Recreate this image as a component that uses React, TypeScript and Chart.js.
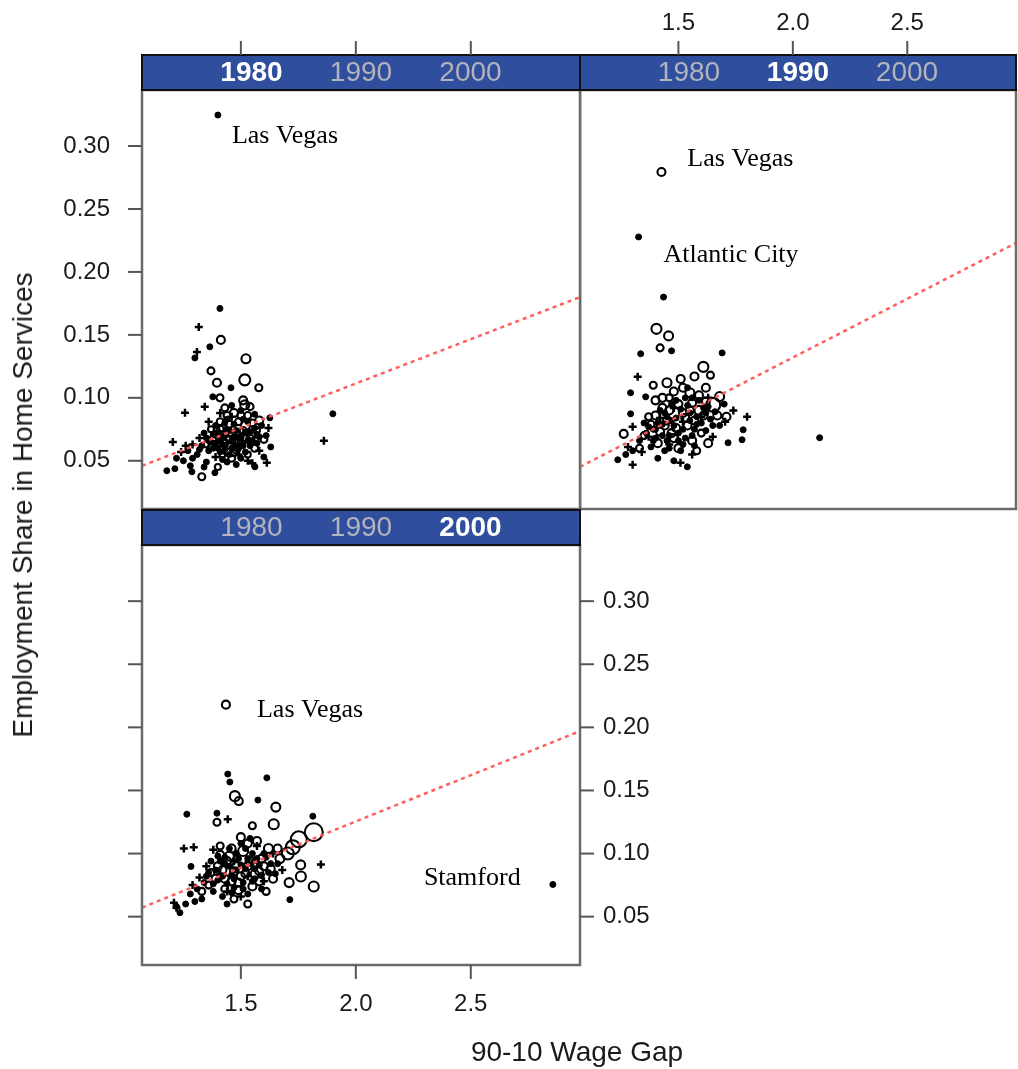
import React, { useEffect, useRef } from "react";
import { Chart, registerables } from "chart.js";

Chart.register(...registerables);

type Pt = [number, number];
type Circ = [number, number, number];
type Note = [string, number, number];

// ---------- axis / panel values ----------
const yearLabels = ["1980", "1990", "2000"];
const xTicks = [1.5, 2.0, 2.5];
const yTicks = [0.05, 0.1, 0.15, 0.2, 0.25, 0.3];
const xLimits = [1.07, 2.975];
const yLimits = [0.0117, 0.3445];
const xTitle = "90-10 Wage Gap";
const yTitle = "Employment Share in Home Services";

// ---------- 1980 ----------
const dots1980: Pt[] = [
  [1.4, 0.3246], [1.409, 0.171], [1.365, 0.1405], [1.3, 0.1317], [1.457, 0.108], [1.378, 0.1008],
  [1.626, 0.0841], [1.9, 0.0873], [1.178, 0.0421], [1.213, 0.0437], [1.561, 0.0452], [1.387, 0.0405],
  [1.287, 0.0413], [1.33, 0.062], [1.36, 0.058], [1.38, 0.071], [1.41, 0.066], [1.43, 0.059],
  [1.45, 0.074], [1.47, 0.062], [1.49, 0.069], [1.52, 0.057], [1.54, 0.073], [1.57, 0.064],
  [1.59, 0.078], [1.35, 0.049], [1.42, 0.051], [1.48, 0.047], [1.53, 0.081], [1.44, 0.083],
  [1.39, 0.078], [1.31, 0.055], [1.27, 0.058], [1.5, 0.09], [1.46, 0.094], [1.56, 0.087],
  [1.61, 0.07], [1.63, 0.061], [1.34, 0.072], [1.25, 0.05], [1.22, 0.052], [1.28, 0.046],
  [1.6, 0.053], [1.51, 0.062], [1.4, 0.06], [1.37, 0.065], [1.55, 0.066], [1.47, 0.079], [1.43, 0.07],
  [1.36, 0.066], [1.38, 0.06], [1.4, 0.072], [1.42, 0.063], [1.44, 0.075], [1.46, 0.066],
  [1.48, 0.074], [1.5, 0.068], [1.52, 0.072], [1.54, 0.062], [1.56, 0.076], [1.45, 0.055],
  [1.41, 0.057], [1.49, 0.06], [1.53, 0.066], [1.39, 0.064], [1.47, 0.069], [1.43, 0.08],
  [1.51, 0.083], [1.57, 0.071], [1.35, 0.068], [1.44, 0.049], [1.5, 0.052], [1.58, 0.069],
  [1.46, 0.06], [1.42, 0.069], [1.32, 0.059], [1.29, 0.052], [1.34, 0.045],
];
const crosses1980: Pt[] = [
  [1.317, 0.1563], [1.309, 0.1365], [1.343, 0.0929], [1.257, 0.0881], [1.861, 0.0659], [1.204, 0.065],
  [1.613, 0.0484], [1.32, 0.068], [1.46, 0.085], [1.29, 0.063], [1.53, 0.05], [1.41, 0.088],
  [1.58, 0.058], [1.36, 0.081], [1.49, 0.055], [1.62, 0.076], [1.24, 0.057], [1.44, 0.064],
  [1.51, 0.071], [1.39, 0.053], [1.26, 0.062], [1.55, 0.048],
];
// x, y, population index (circle size)
const circles1980: Circ[] = [
  [1.413, 0.146, 4], [1.522, 0.131, 4.5], [1.37, 0.1214, 3.5], [1.517, 0.1143, 5.5], [1.396, 0.112, 4],
  [1.578, 0.108, 3.5], [1.409, 0.1, 3.5], [1.517, 0.0944, 4.5], [1.33, 0.0373, 3.5], [1.42, 0.076, 3.5],
  [1.48, 0.072, 4], [1.52, 0.078, 4.5], [1.45, 0.067, 3.5], [1.5, 0.063, 4], [1.55, 0.07, 3.5],
  [1.38, 0.068, 3.5], [1.44, 0.057, 3.5], [1.47, 0.088, 4], [1.53, 0.086, 3.5], [1.41, 0.081, 3.5],
  [1.58, 0.082, 4], [1.35, 0.063, 3], [1.49, 0.081, 3.5], [1.56, 0.06, 3.5], [1.43, 0.092, 3.5],
  [1.51, 0.098, 4], [1.46, 0.052, 3.5], [1.4, 0.045, 3], [1.54, 0.093, 3.5], [1.6, 0.067, 3.5],
  [1.37, 0.075, 3], [1.48, 0.059, 4], [1.39, 0.071, 3.5], [1.43, 0.064, 3.5], [1.46, 0.071, 3.5],
  [1.49, 0.066, 3.5], [1.51, 0.074, 3.5], [1.54, 0.068, 3.5], [1.41, 0.075, 3.5], [1.45, 0.079, 3.5],
  [1.48, 0.064, 3.5], [1.52, 0.068, 3.5], [1.57, 0.074, 3], [1.37, 0.061, 3], [1.44, 0.086, 3.5],
  [1.5, 0.086, 3.5], [1.47, 0.056, 3], [1.53, 0.055, 3], [1.42, 0.055, 3], [1.55, 0.08, 3.5],
];
const fit1980: Pt[] = [[1.07, 0.046], [2.975, 0.18]];
const notes1980: Note[] = [["Las Vegas", 1.461, 0.308]];

// ---------- 1990 ----------
const dots1990: Pt[] = [
  [1.326, 0.2278], [1.435, 0.18], [1.47, 0.1373], [1.335, 0.135], [1.691, 0.1357], [1.291, 0.104],
  [1.357, 0.1008], [1.291, 0.0873], [1.783, 0.0746], [1.778, 0.0667], [1.717, 0.0643], [1.235, 0.0508],
  [1.539, 0.0452], [2.117, 0.0683], [1.36, 0.072], [1.4, 0.068], [1.43, 0.079], [1.46, 0.07],
  [1.49, 0.084], [1.52, 0.075], [1.55, 0.088], [1.58, 0.079], [1.61, 0.092], [1.64, 0.083],
  [1.38, 0.061], [1.44, 0.058], [1.5, 0.066], [1.56, 0.07], [1.62, 0.074], [1.33, 0.066],
  [1.3, 0.058], [1.27, 0.055], [1.42, 0.09], [1.47, 0.095], [1.53, 0.1], [1.59, 0.098],
  [1.66, 0.089], [1.35, 0.08], [1.45, 0.085], [1.51, 0.058], [1.57, 0.062], [1.41, 0.052],
  [1.48, 0.05], [1.68, 0.078], [1.7, 0.095], [1.54, 0.108], [1.39, 0.075],
  [1.4, 0.075], [1.43, 0.07], [1.45, 0.066], [1.48, 0.078], [1.5, 0.072], [1.53, 0.068],
  [1.55, 0.082], [1.57, 0.075], [1.6, 0.08], [1.62, 0.088], [1.44, 0.088], [1.47, 0.082],
  [1.51, 0.091], [1.54, 0.094], [1.58, 0.085], [1.41, 0.08], [1.46, 0.06], [1.52, 0.063],
  [1.37, 0.077], [1.63, 0.093], [1.49, 0.098], [1.56, 0.1], [1.39, 0.066], [1.65, 0.078],
];
const crosses1990: Pt[] = [
  [1.322, 0.1167], [1.8, 0.085], [1.704, 0.081], [1.3, 0.077], [1.3, 0.0468], [1.509, 0.0484],
  [1.37, 0.069], [1.46, 0.063], [1.52, 0.081], [1.6, 0.085], [1.42, 0.084], [1.34, 0.057],
  [1.65, 0.069], [1.48, 0.092], [1.56, 0.055], [1.28, 0.061], [1.74, 0.09], [1.63, 0.1],
];
const circles1990: Circ[] = [
  [1.426, 0.2794, 4], [1.404, 0.1548, 5], [1.457, 0.1492, 4.5], [1.42, 0.1397, 3.5], [1.609, 0.1246, 5],
  [1.261, 0.0714, 4], [1.45, 0.112, 4.5], [1.51, 0.115, 4], [1.57, 0.117, 4], [1.48, 0.105, 4],
  [1.55, 0.104, 4.5], [1.62, 0.108, 4], [1.4, 0.098, 4], [1.652, 0.0944, 7], [1.59, 0.09, 4.5],
  [1.44, 0.078, 4], [1.52, 0.088, 4], [1.37, 0.085, 3.5], [1.47, 0.072, 4], [1.54, 0.078, 4],
  [1.6, 0.072, 3.5], [1.41, 0.064, 4], [1.35, 0.07, 3.5], [1.5, 0.06, 4], [1.63, 0.064, 4],
  [1.43, 0.092, 4], [1.56, 0.096, 4], [1.68, 0.101, 4.5], [1.33, 0.06, 3.5], [1.71, 0.085, 4],
  [1.58, 0.058, 3.5], [1.46, 0.1, 3.5], [1.64, 0.118, 3.5], [1.39, 0.11, 3.5],
  [1.42, 0.073, 4], [1.45, 0.082, 4], [1.49, 0.076, 4], [1.53, 0.084, 4], [1.57, 0.082, 4],
  [1.61, 0.086, 4], [1.46, 0.09, 4], [1.5, 0.095, 4], [1.55, 0.09, 4], [1.59, 0.102, 4],
  [1.43, 0.1, 4], [1.52, 0.108, 4], [1.48, 0.068, 4], [1.56, 0.066, 4], [1.4, 0.086, 4],
  [1.62, 0.097, 4], [1.67, 0.086, 4], [1.38, 0.079, 3.5],
];
const fit1990: Pt[] = [[1.07, 0.0452], [2.975, 0.223]];
const notes1990: Note[] = [["Las Vegas", 1.539, 0.2897], ["Atlantic City", 1.435, 0.2135]];

// ---------- 2000 ----------
const dots2000: Pt[] = [
  [1.443, 0.163], [1.452, 0.1567], [1.613, 0.16], [1.574, 0.1424], [1.265, 0.1312], [1.396, 0.132],
  [1.813, 0.1296], [1.283, 0.0898], [1.713, 0.0635], [1.235, 0.0532], [2.857, 0.0755], [1.36, 0.085],
  [1.4, 0.079], [1.43, 0.092], [1.46, 0.083], [1.49, 0.096], [1.52, 0.088], [1.55, 0.1],
  [1.58, 0.091], [1.61, 0.097], [1.38, 0.07], [1.42, 0.066], [1.47, 0.073], [1.51, 0.077],
  [1.56, 0.08], [1.34, 0.077], [1.31, 0.072], [1.28, 0.068], [1.45, 0.104], [1.5, 0.108],
  [1.54, 0.112], [1.62, 0.085], [1.66, 0.092], [1.4, 0.098], [1.33, 0.064], [1.44, 0.06],
  [1.53, 0.068], [1.59, 0.072], [1.48, 0.087], [1.37, 0.094], [1.3, 0.062], [1.26, 0.06], [1.22, 0.058],
  [1.39, 0.087], [1.42, 0.082], [1.45, 0.09], [1.47, 0.08], [1.5, 0.091], [1.53, 0.096],
  [1.56, 0.088], [1.59, 0.083], [1.63, 0.092], [1.44, 0.076], [1.48, 0.1], [1.52, 0.104],
  [1.57, 0.096], [1.41, 0.094], [1.35, 0.082], [1.46, 0.069], [1.51, 0.072], [1.55, 0.078],
  [1.6, 0.1], [1.38, 0.076], [1.43, 0.097], [1.65, 0.084],
];
const crosses2000: Pt[] = [
  [1.443, 0.1272], [1.252, 0.1041], [1.295, 0.105], [1.848, 0.0914], [1.209, 0.0611], [1.22, 0.057],
  [1.35, 0.09], [1.41, 0.084], [1.47, 0.094], [1.53, 0.082], [1.57, 0.106], [1.44, 0.07],
  [1.32, 0.081], [1.6, 0.078], [1.5, 0.066], [1.64, 0.1], [1.38, 0.103], [1.55, 0.093],
  [1.29, 0.075], [1.68, 0.087],
];
const circles2000: Circ[] = [
  [1.435, 0.218, 4], [1.474, 0.1455, 5], [1.491, 0.1416, 4], [1.652, 0.1368, 4.5], [1.396, 0.1248, 3.5],
  [1.643, 0.1232, 5], [1.817, 0.1169, 9], [1.752, 0.1113, 8], [1.726, 0.105, 7], [1.704, 0.1, 6],
  [1.761, 0.0818, 5], [1.817, 0.0739, 5], [1.71, 0.077, 4.5], [1.76, 0.091, 4.5], [1.45, 0.098, 4.5],
  [1.51, 0.102, 5], [1.57, 0.11, 4], [1.62, 0.104, 4.5], [1.48, 0.09, 4], [1.54, 0.094, 4.5],
  [1.6, 0.09, 4], [1.42, 0.087, 4], [1.39, 0.08, 4], [1.46, 0.078, 4], [1.52, 0.084, 4],
  [1.58, 0.086, 4], [1.64, 0.08, 4], [1.43, 0.072, 3.5], [1.49, 0.071, 4], [1.55, 0.074, 4],
  [1.36, 0.075, 3.5], [1.5, 0.113, 4], [1.55, 0.122, 3.5], [1.67, 0.096, 4.5], [1.41, 0.106, 3.5],
  [1.33, 0.07, 3.5], [1.47, 0.064, 3.5], [1.61, 0.07, 3.5], [1.53, 0.06, 3.5],
  [1.4, 0.09, 4], [1.44, 0.094, 4], [1.47, 0.086, 4], [1.5, 0.082, 4], [1.53, 0.09, 4],
  [1.56, 0.084, 4], [1.59, 0.096, 4], [1.46, 0.104, 4], [1.53, 0.108, 4], [1.49, 0.077, 4],
  [1.43, 0.08, 4], [1.63, 0.088, 4], [1.37, 0.085, 3.5], [1.58, 0.078, 4], [1.41, 0.099, 4],
  [1.66, 0.104, 4],
];
const fit2000: Pt[] = [[1.07, 0.0572], [2.975, 0.197]];
const notes2000: Note[] = [["Las Vegas", 1.57, 0.214], ["Stamford", 2.296, 0.0803]];

// ---------- rendering ----------
const SANS = '"Liberation Sans", Arial, Helvetica, sans-serif';
const SERIF = '"Liberation Serif", "Times New Roman", serif';

interface PanelSpec {
  active: number;
  notes: Note[];
  topTicks?: boolean;
  topLabels?: boolean;
  leftTicks?: boolean;
  leftLabels?: boolean;
  rightTicks?: boolean;
  rightLabels?: boolean;
  bottomTicks?: boolean;
  bottomLabels?: boolean;
}

function decorPlugin(spec: PanelSpec) {
  return {
    id: "latticeDecor",
    afterDraw(chart: any) {
      const ctx: CanvasRenderingContext2D = chart.ctx;
      const a = chart.chartArea;
      const xs = chart.scales.x;
      const ys = chart.scales.y;
      const w = a.right - a.left;
      ctx.save();

      // annotations
      ctx.fillStyle = "#000";
      ctx.font = `26px ${SERIF}`;
      ctx.textAlign = "left";
      ctx.textBaseline = "middle";
      for (const [t, x, y] of spec.notes) {
        ctx.fillText(t, xs.getPixelForValue(x), ys.getPixelForValue(y));
      }

      // panel border
      ctx.strokeStyle = "#6a6a6a";
      ctx.lineWidth = 2.5;
      ctx.strokeRect(a.left, a.top, w, a.bottom - a.top);

      // strip
      const sh = 35;
      const st = a.top - sh;
      ctx.fillStyle = "#2f4f9e";
      ctx.fillRect(a.left, st, w, sh);
      ctx.strokeStyle = "#111";
      ctx.lineWidth = 2;
      ctx.strokeRect(a.left, st, w, sh);
      yearLabels.forEach((lab, i) => {
        const on = i === spec.active;
        ctx.font = `${on ? "bold " : ""}28px ${SANS}`;
        ctx.fillStyle = on ? "#ffffff" : "#b3b3bb";
        ctx.textAlign = "center";
        ctx.textBaseline = "middle";
        ctx.fillText(lab, a.left + (w * (i + 1)) / 4, st + sh / 2 + 1);
      });

      // ticks and labels
      const TL = 14;
      ctx.strokeStyle = "#555";
      ctx.lineWidth = 2;
      ctx.fillStyle = "#1a1a1a";
      ctx.font = `24px ${SANS}`;
      const line = (x1: number, y1: number, x2: number, y2: number) => {
        ctx.beginPath();
        ctx.moveTo(x1, y1);
        ctx.lineTo(x2, y2);
        ctx.stroke();
      };
      if (spec.topTicks) {
        for (const v of xTicks) {
          const px = xs.getPixelForValue(v);
          line(px, st, px, st - TL);
          if (spec.topLabels) {
            ctx.textAlign = "center";
            ctx.textBaseline = "middle";
            ctx.fillText(v.toFixed(1), px, st - 32);
          }
        }
      }
      if (spec.bottomTicks) {
        for (const v of xTicks) {
          const px = xs.getPixelForValue(v);
          line(px, a.bottom, px, a.bottom + TL);
          if (spec.bottomLabels) {
            ctx.textAlign = "center";
            ctx.textBaseline = "middle";
            ctx.fillText(v.toFixed(1), px, a.bottom + 39);
          }
        }
      }
      if (spec.leftTicks) {
        for (const v of yTicks) {
          const py = ys.getPixelForValue(v);
          line(a.left, py, a.left - TL, py);
          if (spec.leftLabels) {
            ctx.textAlign = "right";
            ctx.textBaseline = "middle";
            ctx.fillText(v.toFixed(2), a.left - 32, py);
          }
        }
      }
      if (spec.rightTicks) {
        for (const v of yTicks) {
          const py = ys.getPixelForValue(v);
          line(a.right, py, a.right + TL, py);
          if (spec.rightLabels) {
            ctx.textAlign = "left";
            ctx.textBaseline = "middle";
            ctx.fillText(v.toFixed(2), a.right + 23, py);
          }
        }
      }
      ctx.restore();
    },
  };
}

const toXY = (arr: (Pt | Circ)[]) => arr.map((p) => ({ x: p[0], y: p[1] }));

function makeChart(
  canvas: HTMLCanvasElement,
  dots: Pt[],
  crosses: Pt[],
  circles: Circ[],
  fit: Pt[],
  padding: { left: number; top: number; right: number; bottom: number },
  spec: PanelSpec
) {
  return new Chart(canvas, {
    type: "scatter",
    data: {
      datasets: [
        {
          type: "line",
          data: toXY(fit),
          borderColor: "rgba(255,85,85,0.95)",
          borderWidth: 2.5,
          borderDash: [4, 4],
          pointRadius: 0,
          fill: false,
        } as any,
        {
          data: toXY(circles),
          pointStyle: "circle",
          pointRadius: circles.map((c) => c[2]),
          backgroundColor: "rgba(0,0,0,0)",
          borderColor: "#000",
          pointBorderWidth: 2.1,
        } as any,
        {
          data: toXY(dots),
          pointStyle: "circle",
          pointRadius: 3,
          backgroundColor: "#000",
          borderColor: "#000",
          pointBorderWidth: 1,
        } as any,
        {
          data: toXY(crosses),
          pointStyle: "cross",
          pointRadius: 4,
          borderColor: "#000",
          pointBorderWidth: 2.5,
        } as any,
      ],
    },
    options: {
      animation: false,
      responsive: false,
      devicePixelRatio: 1,
      events: [],
      layout: { padding, autoPadding: false },
      plugins: { legend: { display: false }, tooltip: { enabled: false } },
      scales: {
        x: { type: "linear", min: xLimits[0], max: xLimits[1], display: false },
        y: { type: "linear", min: yLimits[0], max: yLimits[1], display: false },
      },
    },
    plugins: [decorPlugin(spec)],
  } as any);
}

export default function App() {
  const refA = useRef<HTMLCanvasElement>(null);
  const refB = useRef<HTMLCanvasElement>(null);
  const refC = useRef<HTMLCanvasElement>(null);

  useEffect(() => {
    const charts: Chart[] = [];
    if (refA.current)
      charts.push(
        makeChart(refA.current, dots1980, crosses1980, circles1980, fit1980,
          { left: 142, top: 90, right: 2, bottom: 3 },
          { active: 0, notes: notes1980, topTicks: true, leftTicks: true, leftLabels: true })
      );
    if (refB.current)
      charts.push(
        makeChart(refB.current, dots1990, crosses1990, circles1990, fit1990,
          { left: 1, top: 90, right: 2, bottom: 3 },
          { active: 1, notes: notes1990, topTicks: true, topLabels: true })
      );
    if (refC.current)
      charts.push(
        makeChart(refC.current, dots2000, crosses2000, circles2000, fit2000,
          { left: 142, top: 36, right: 120, bottom: 104 },
          { active: 2, notes: notes2000, leftTicks: true, rightTicks: true, rightLabels: true, bottomTicks: true, bottomLabels: true })
      );
    return () => charts.forEach((c) => c.destroy());
  }, []);

  const abs = (left: number, top: number): React.CSSProperties => ({ position: "absolute", left, top });

  return (
    <div style={{ position: "absolute", left: 0, top: 0, width: 1018, height: 1069, background: "#fff", overflow: "hidden" }}>
      <canvas ref={refA} width={582} height={512} style={abs(0, 0)} />
      <canvas ref={refB} width={439} height={512} style={abs(579, 0)} />
      <canvas ref={refC} width={700} height={560} style={abs(0, 509)} />
      <div
        style={{
          position: "absolute",
          left: 23,
          top: 505,
          transform: "translate(-50%, -50%) rotate(-90deg)",
          whiteSpace: "nowrap",
          font: `28px ${SANS}`,
          color: "#1a1a1a",
        }}
      >
        {yTitle}
      </div>
      <div
        style={{
          position: "absolute",
          left: 577,
          top: 1052,
          transform: "translate(-50%, -50%)",
          whiteSpace: "nowrap",
          font: `28px ${SANS}`,
          color: "#1a1a1a",
        }}
      >
        {xTitle}
      </div>
    </div>
  );
}
